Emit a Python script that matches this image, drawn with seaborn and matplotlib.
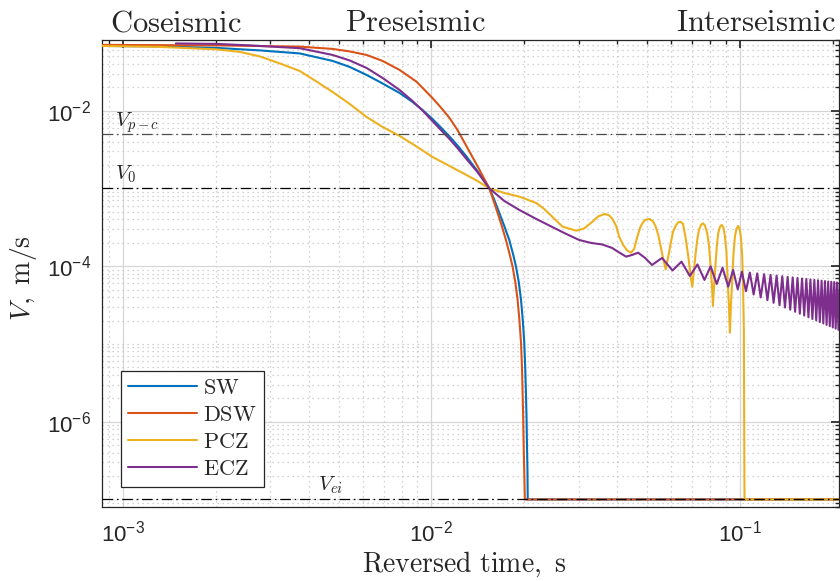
import numpy as np
import pandas as pd
import matplotlib
matplotlib.use("Agg")
import matplotlib.pyplot as plt
import seaborn as sns
from matplotlib.font_manager import FontProperties
from matplotlib.ticker import LogLocator, FixedLocator, FuncFormatter, NullFormatter

# slip rate curves (reversed time in s, V in m/s)
sw_t = [8.55e-4, 1.317e-3, 2.015e-3, 2.776e-3, 3.74e-3, 4.78e-3, 5.43e-3, 6.16e-3,
        6.94e-3, 7.88e-3, 8.68e-3, 9.35e-3, 1.007e-2, 1.069e-2, 1.144e-2, 1.214e-2,
        1.298e-2, 1.409e-2, 1.541e-2, 1.599e-2, 1.66e-2, 1.722e-2, 1.788e-2, 1.842e-2,
        1.88e-2, 1.919e-2, 1.952e-2, 1.978e-2, 2.0e-2, 2.014e-2, 2.025e-2, 2.034e-2,
        2.04e-2, 2.048e-2, 2.052e-2, 0.21]
sw_v = [0.0679, 0.0669, 0.064, 0.0595, 0.0544, 0.0436, 0.0365, 0.0288,
        0.02237, 0.01689, 0.01294, 0.01021, 7.82e-3, 6.17e-3, 4.66e-3, 3.57e-3,
        2.576e-3, 1.676e-3, 1.0e-3, 7.1e-4, 4.83e-4, 3.29e-4, 2.17e-4, 1.393e-4,
        9.85e-5, 6.26e-5, 3.67e-5, 2.0e-5, 1.028e-5, 4.91e-6, 2.34e-6, 1.116e-6,
        5.32e-7, 2.39e-7, 1.0e-7, 1.0e-7]

dsw_t = [8.55e-4, 2.015e-3, 3.74e-3, 4.78e-3, 5.43e-3, 6.16e-3, 6.94e-3, 7.88e-3,
         8.94e-3, 1.007e-2, 1.069e-2, 1.144e-2, 1.214e-2, 1.298e-2, 1.409e-2, 1.541e-2,
         1.587e-2, 1.639e-2, 1.691e-2, 1.744e-2, 1.795e-2, 1.833e-2, 1.87e-2, 1.903e-2,
         1.929e-2, 1.952e-2, 1.966e-2, 1.975e-2, 1.984e-2, 1.99e-2, 1.999e-2, 2.008e-2,
         0.21]
dsw_v = [0.0700, 0.0690, 0.0665, 0.0622, 0.0577, 0.0520, 0.0436, 0.0334,
         0.0236, 0.01457, 0.01116, 8.06e-3, 5.65e-3, 3.515e-3, 1.944e-3, 1.0e-3,
         7.1e-4, 4.83e-4, 3.29e-4, 2.17e-4, 1.393e-4, 9.85e-5, 6.26e-5, 3.67e-5,
         2.0e-5, 1.028e-5, 4.91e-6, 2.34e-6, 1.116e-6, 5.32e-7, 2.39e-7, 1.0e-7,
         1.0e-7]

pcz_t = [8.55e-4, 1.317e-3, 2.015e-3, 2.391e-3, 2.776e-3, 3.222e-3, 3.74e-3, 4.245e-3,
         4.78e-3, 5.43e-3, 6.16e-3, 6.94e-3, 7.88e-3, 8.94e-3, 1.007e-2, 1.144e-2,
         1.298e-2, 1.409e-2, 1.541e-2, 1.722e-2, 1.927e-2, 2.186e-2, 2.32e-2, 2.463e-2,
         2.66e-2, 2.945e-2, 3.127e-2, 3.319e-2, 3.471e-2, 3.648e-2, 3.768e-2, 3.861e-2,
         3.97e-2, 4.06e-2, 4.183e-2, 4.309e-2, 4.438e-2, 4.54e-2, 4.651e-2, 4.747e-2,
         4.828e-2, 4.927e-2, 5.094e-2, 5.229e-2, 5.335e-2, 5.447e-2, 5.538e-2, 5.633e-2,
         5.747e-2, 5.848e-2, 5.966e-2, 6.07e-2, 6.19e-2, 6.3e-2, 6.42e-2, 6.54e-2,
         6.67e-2, 6.813e-2, 6.925e-2, 7.007e-2, 7.097e-2, 7.187e-2, 7.288e-2, 7.367e-2,
         7.48e-2, 7.59e-2, 7.703e-2, 7.834e-2, 7.937e-2, 8.037e-2, 8.116e-2, 8.176e-2,
         8.25e-2, 8.342e-2, 8.423e-2, 8.505e-2, 8.615e-2, 8.725e-2, 8.845e-2, 8.944e-2,
         9.045e-2, 9.125e-2, 9.213e-2, 9.28e-2, 9.352e-2, 9.443e-2, 9.528e-2, 9.634e-2,
         9.743e-2, 9.874e-2, 9.986e-2, 0.1007, 0.1017, 0.1023, 0.103, 0.1035, 0.21]
pcz_v = [0.0679, 0.0660, 0.0613, 0.0569, 0.0498, 0.0405, 0.0324, 0.0236,
         0.0174, 0.0122, 8.3e-3, 6.17e-3, 4.73e-3, 3.464e-3, 2.54e-3, 1.944e-3,
         1.489e-3, 1.247e-3, 1.0e-3, 8.74e-4, 7.83e-4, 6.5e-4, 5.44e-4, 4.33e-4,
         3.22e-4, 2.86e-4, 3.053e-4, 3.70e-4, 4.357e-4, 4.69e-4, 4.488e-4, 4.05e-4,
         3.29e-4, 2.395e-4, 1.874e-4, 1.591e-4, 1.49e-4, 1.664e-4, 2.395e-4, 3.1e-4,
         3.56e-4, 3.93e-4, 4.05e-4, 3.757e-4, 3.22e-4, 2.445e-4, 1.781e-4, 1.275e-4,
         9.07e-5, 1.275e-4, 1.97e-4, 2.754e-4, 3.29e-4, 3.648e-4, 3.725e-4, 3.489e-4,
         2.305e-4, 1.275e-4, 7.33e-5, 5.45e-5, 8.93e-5, 1.465e-4, 2.305e-4, 2.92e-4,
         3.39e-4, 3.56e-4, 3.339e-4, 2.65e-4, 1.874e-4, 9.85e-5, 5.73e-5, 3.08e-5,
         5.73e-5, 1.09e-4, 1.874e-4, 2.65e-4, 3.19e-4, 3.39e-4, 3.145e-4, 2.395e-4,
         1.523e-4, 6.65e-5, 3.17e-5, 1.395e-5, 3.17e-5, 6.65e-5, 1.393e-4, 2.395e-4,
         3.01e-4, 3.29e-4, 3.01e-4, 2.395e-4, 1.393e-4, 6.65e-5, 1.511e-5, 1.0e-7, 1.0e-7]

ecz_t = [1.484e-3, 2.015e-3, 2.576e-3, 3.74e-3, 4.78e-3, 5.43e-3, 6.16e-3, 6.94e-3,
         7.88e-3, 8.68e-3, 9.35e-3, 1.007e-2, 1.069e-2, 1.144e-2, 1.214e-2, 1.298e-2,
         1.409e-2, 1.541e-2, 1.722e-2, 1.927e-2, 2.186e-2, 2.463e-2, 2.735e-2, 3.013e-2,
         3.294e-2, 3.575e-2, 3.853e-2, 4.06e-2, 4.277e-2, 4.472e-2, 4.676e-2, 4.927e-2,
         5.19e-2, 5.592e-2, 6.047e-2, 6.465e-2, 6.88e-2, 7.285e-2, 7.675e-2, 8.037e-2,
         8.41e-2, 8.785e-2, 9.165e-2, 9.506e-2, 9.84e-2, 0.1015]
ecz_v = [0.0731, 0.0721, 0.069, 0.0635, 0.052, 0.0442, 0.0354, 0.02634,
         0.01845, 0.01333, 0.01006, 7.37e-3, 5.73e-3, 4.325e-3, 3.313e-3, 2.392e-3,
         1.627e-3, 1.0e-3, 6.9e-4, 5.28e-4, 4.05e-4, 3.19e-4, 2.595e-4, 2.17e-4,
         1.988e-4, 1.902e-4, 1.714e-4, 1.5e-4, 1.325e-4, 1.393e-4, 1.49e-4, 1.275e-4,
         1.036e-4, 1.275e-4, 8.8e-5, 1.142e-4, 7.48e-5, 1.052e-4, 6.65e-5, 9.94e-5,
         5.9e-5, 9.53e-5, 5.45e-5, 8.93e-5, 5.04e-5, 8.5e-5]
# dense ECZ ringing past 0.1 s: crests and dips
ecz_peak_t = [0.1077, 0.1138, 0.1198, 0.1257, 0.1315, 0.1372, 0.1428, 0.1483,
              0.1537, 0.1590, 0.1642, 0.1693, 0.1743, 0.1792, 0.1840, 0.1887,
              0.1933, 0.1978, 0.2022, 0.2065, 0.2108]
ecz_peak_v = [8.27e-5, 8.07e-5, 7.88e-5, 7.72e-5, 7.56e-5, 7.42e-5, 7.29e-5, 7.16e-5,
              7.05e-5, 6.94e-5, 6.84e-5, 6.75e-5, 6.66e-5, 6.58e-5, 6.50e-5, 6.43e-5,
              6.35e-5, 6.29e-5, 6.23e-5, 6.17e-5, 6.11e-5]
ecz_dip_t = [0.1046, 0.1108, 0.1168, 0.1228, 0.1286, 0.1344, 0.1400, 0.1456,
             0.1510, 0.1564, 0.1616, 0.1668, 0.1718, 0.1768, 0.1816, 0.1864,
             0.1910, 0.1956, 0.2000, 0.2044, 0.2087]
ecz_dip_v = [4.75e-5, 4.32e-5, 3.96e-5, 3.65e-5, 3.38e-5, 3.14e-5, 2.94e-5, 2.75e-5,
             2.59e-5, 2.445e-5, 2.315e-5, 2.20e-5, 2.09e-5, 2.0e-5, 1.91e-5, 1.83e-5,
             1.755e-5, 1.69e-5, 1.627e-5, 1.57e-5, 1.517e-5]

models = ["SW", "DSW", "PCZ", "ECZ"]
colors = ["#0072BD", "#D95319", "#EDB120", "#7E2F8E"]

# reference velocities
v_pc = 5e-3
v_0 = 1e-3
v_ei = 1e-7

x_ticks = [1e-3, 1e-2, 1e-1]
y_ticks = [1e-6, 1e-4, 1e-2]

# ECZ tail merged in time order
tail_t = np.concatenate([ecz_peak_t, ecz_dip_t])
tail_v = np.concatenate([ecz_peak_v, ecz_dip_v])
order = np.argsort(tail_t)
ecz_all_t = np.concatenate([ecz_t, tail_t[order]])
ecz_all_v = np.concatenate([ecz_v, tail_v[order]])

frames = []
for name, t, v in [("SW", sw_t, sw_v), ("DSW", dsw_t, dsw_v),
                   ("PCZ", pcz_t, pcz_v), ("ECZ", ecz_all_t, ecz_all_v)]:
    frames.append(pd.DataFrame({"t": t, "V": v, "model": name}))
df = pd.concat(frames, ignore_index=True)

sns.set_theme(style="white")
# sans (Helvetica-like) ticks, Computer Modern for the LaTeX-style texts
plt.rcParams['font.family'] = ['Liberation Sans', 'DejaVu Sans']
plt.rcParams['mathtext.fontset'] = 'custom'
plt.rcParams['mathtext.rm'] = 'Liberation Sans'
plt.rcParams['mathtext.it'] = 'Liberation Sans:italic'
plt.rcParams['mathtext.bf'] = 'Liberation Sans:bold'
cm = dict(math_fontfamily='cm')

fig = plt.figure(figsize=(8.4, 5.81), dpi=100)
ax = fig.add_axes([0.1214, 0.1274, 0.877, 0.8038])
ax.set_xscale('log')
ax.set_yscale('log')

sns.lineplot(data=df, x="t", y="V", hue="model", hue_order=models,
             palette=dict(zip(models, colors)), estimator=None, sort=False,
             linewidth=1.5, ax=ax, legend=False, zorder=3)

# reference levels (dash-dot)
dd = (0, (8.5, 3, 1.3, 3))
ax.axhline(v_pc, color='#4d4d4d', lw=0.9, ls=dd, zorder=4)
ax.axhline(v_0, color='black', lw=0.9, ls=dd, zorder=4)
ax.axhline(v_ei, color='black', lw=0.9, ls=dd, zorder=4)
ax.text(9.42e-4, 6.17e-3, r'$V_{p-c}$', fontsize=15, ha='left', va='baseline', **cm)
ax.text(9.42e-4, 1.285e-3, r'$V_0$', fontsize=15, ha='left', va='baseline', **cm)
ax.text(4.28e-3, 1.32e-7, r'$V_{ei}$', fontsize=15, ha='left', va='baseline', **cm)

ax.set_xlim(8.55e-4, 0.209)
ax.set_ylim(8.0e-8, 0.081)

ax.xaxis.set_major_locator(FixedLocator(x_ticks))
ax.xaxis.set_minor_locator(LogLocator(base=10, subs=np.arange(2, 10), numticks=20))
ax.yaxis.set_major_locator(FixedLocator(y_ticks))
ax.yaxis.set_minor_locator(LogLocator(base=10, subs=np.arange(1, 10), numticks=30))
fmt = FuncFormatter(lambda v, pos: r'$10^{%d}$' % int(round(np.log10(v))))
ax.xaxis.set_major_formatter(fmt)
ax.yaxis.set_major_formatter(fmt)
ax.xaxis.set_minor_formatter(NullFormatter())
ax.yaxis.set_minor_formatter(NullFormatter())

ax.grid(which='major', color='#d6d6d6', linestyle='-', linewidth=0.9, zorder=0)
ax.grid(which='minor', color='#c4c4c4', linestyle=(0, (1, 3)), linewidth=0.9, zorder=0)
ax.set_axisbelow(True)

for s in ax.spines.values():
    s.set_color('#262626')
    s.set_linewidth(0.9)
ax.tick_params(which='both', direction='in', top=True, right=True, color='#262626')
ax.tick_params(which='major', length=6, labelsize=16, labelcolor='#262626')
ax.tick_params(axis='x', which='major', pad=10)
ax.tick_params(axis='y', which='major', pad=8)
ax.tick_params(which='minor', length=3)

ax.set_xlabel(r'$\mathrm{Reversed\ time,\ s}$', fontsize=20, **cm)
ax.set_ylabel(r'$V\mathrm{,\ m/s}$', fontsize=20, **cm)
ax.xaxis.set_label_coords(0.492, -0.09)
ax.yaxis.set_label_coords(-0.086, 0.49)

# legend built from the drawn lines
handles = ax.get_lines()[:4]
leg = ax.legend(handles, [r'$\mathrm{%s}$' % m for m in models],
                loc='lower left', bbox_to_anchor=(0.026, 0.043), borderaxespad=0,
                prop=FontProperties(size=16, math_fontfamily='cm'),
                handlelength=3.1, handletextpad=0.3, labelspacing=0.28,
                borderpad=0.3, fancybox=False, framealpha=1, edgecolor='#262626')
leg.get_frame().set_linewidth(0.9)

fig.text(0.2095, 0.9466, r'$\mathrm{Coseismic}$', fontsize=22, ha='center', va='baseline', **cm)
fig.text(0.494, 0.9466, r'$\mathrm{Preseismic}$', fontsize=22, ha='center', va='baseline', **cm)
fig.text(0.9, 0.9466, r'$\mathrm{Interseismic}$', fontsize=22, ha='center', va='baseline', **cm)

fig.savefig("out.png", dpi=100)
